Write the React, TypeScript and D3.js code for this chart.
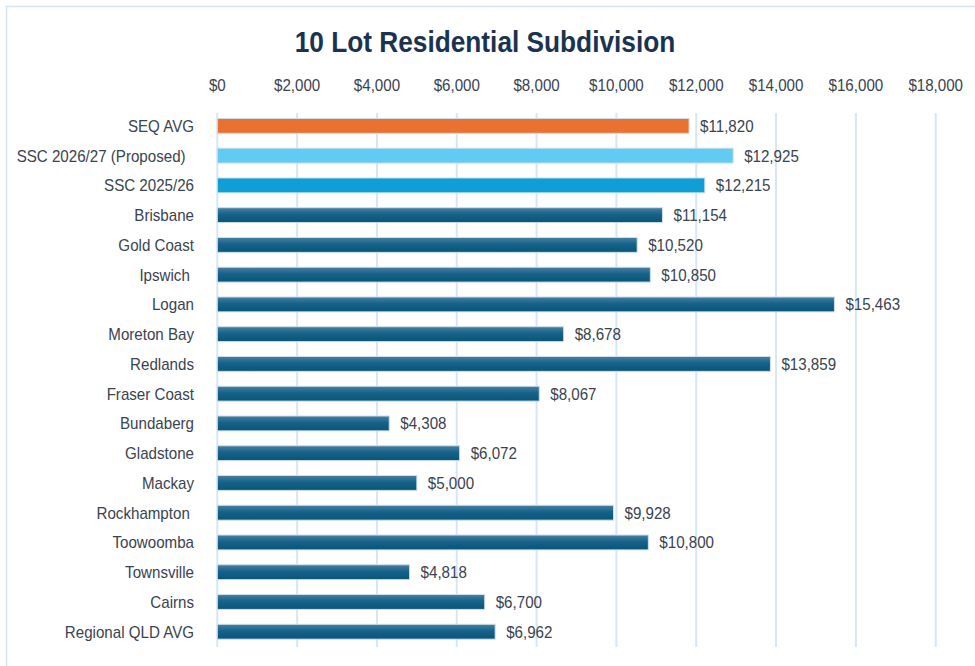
import React from "react";
import * as d3 from "d3";

const categories = [
  "SEQ AVG",
  "SSC 2026/27 (Proposed)  ",
  "SSC 2025/26",
  "Brisbane",
  "Gold Coast",
  "Ipswich ",
  "Logan",
  "Moreton Bay",
  "Redlands",
  "Fraser Coast",
  "Bundaberg",
  "Gladstone",
  "Mackay",
  "Rockhampton ",
  "Toowoomba",
  "Townsville",
  "Cairns",
  "Regional QLD AVG",
];
const values = [11820, 12925, 12215, 11154, 10520, 10850, 15463, 8678, 13859, 8067, 4308, 6072, 5000, 9928, 10800, 4818, 6700, 6962];
const barKinds = ["seq", "proposed", "current", "council", "council", "council", "council", "council", "council", "council", "council", "council", "council", "council", "council", "council", "council", "council"];
const tickValues = [0, 2000, 4000, 6000, 8000, 10000, 12000, 14000, 16000, 18000];
const title = "10 Lot Residential Subdivision";

const W = 975;
const H = 666;
const FONT = "'Liberation Sans', Arial, sans-serif";

const fillFor: Record<string, string> = {
  seq: "#E97132",
  proposed: "#61CBF3",
  current: "#0F9ED5",
  council: "url(#darkGrad)",
};

function NText(props: { x: number; y: number; anchor?: string; size: number; sx?: number; weight?: string; fill: string; children: React.ReactNode }) {
  return (
    <text
      transform={`translate(${props.x},${props.y}) scale(${props.sx ?? 0.89},1)`}
      dy="0.35em"
      textAnchor={props.anchor || "start"}
      fontFamily={FONT}
      fontSize={props.size}
      fontWeight={props.weight || "normal"}
      fill={props.fill}
      style={{ whiteSpace: "pre" }}
    >
      {props.children}
    </text>
  );
}

export default function App() {
  const x = d3.scaleLinear().domain([0, 18000]).range([217.3, 935.7]);
  const y = d3.scaleBand<string>().domain(categories).range([111, 646.6]).paddingInner(0.5).paddingOuter(0.25);
  const fmt = (v: number) => "$" + d3.format(",")(v);
  const txt = "#3a4350";
  return (
    <svg width={W} height={H} style={{ position: "absolute", left: 0, top: 0 }}>
      <defs>
        <linearGradient id="darkGrad" x1="0" y1="0" x2="0" y2="1">
          <stop offset="0" stopColor="#4a80a0" />
          <stop offset="0.45" stopColor="#15628a" />
          <stop offset="1" stopColor="#0a5577" />
        </linearGradient>
      </defs>
      <rect x={0} y={0} width={W} height={H} fill="#fff" />
      <rect x={6.5} y={6.5} width={W + 10} height={H + 10} fill="#fff" stroke="#d5e3f1" strokeWidth={1.5} />
      <NText x={485} y={41} anchor="middle" size={30} sx={0.875} weight="bold" fill="#1a3350">
        {title}
      </NText>
      {tickValues.map((t) => (
        <g key={t}>
          <line x1={x(t)} x2={x(t)} y1={113} y2={647} stroke="#d7e6f4" strokeWidth={2} />
          <NText x={x(t)} y={85} anchor="middle" size={17} fill={txt}>
            {fmt(t)}
          </NText>
        </g>
      ))}
      {categories.map((c, i) => {
        const by = y(c)!;
        const bh = y.bandwidth();
        return (
          <g key={c}>
            <rect x={x(0)} y={by} width={x(values[i]) - x(0)} height={bh} fill={fillFor[barKinds[i]]} stroke="#cfdfec" strokeWidth={1} />
            <NText x={194} y={by + bh / 2} anchor="end" size={17} fill={txt}>
              {c}
            </NText>
            <NText x={x(values[i]) + 11} y={by + bh / 2} size={17} fill={txt}>
              {fmt(values[i])}
            </NText>
          </g>
        );
      })}
    </svg>
  );
}
